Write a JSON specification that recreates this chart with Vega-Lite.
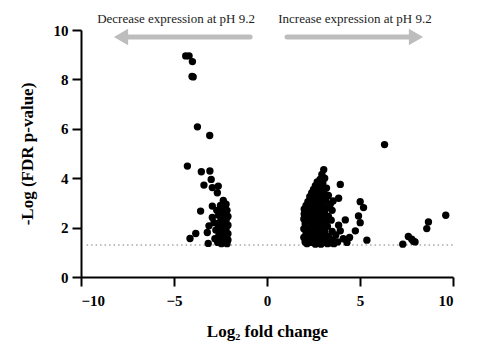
{
  "$schema": "https://vega.github.io/schema/vega-lite/v6.json",
  "width": 372,
  "height": 247,
  "autosize": {"type": "none"},
  "padding": {"left": 81, "top": 30, "right": 25, "bottom": 75},
  "background": "white",
  "config": {
    "view": {"stroke": null},
    "font": "Liberation Serif, Times New Roman, serif",
    "axis": {
      "grid": false,
      "domainColor": "black",
      "domainWidth": 2,
      "tickColor": "black",
      "tickWidth": 2,
      "tickSize": 9,
      "labelFont": "Liberation Serif, Times New Roman, serif",
      "labelFontWeight": "bold",
      "labelFontSize": 15,
      "labelColor": "black",
      "titleFont": "Liberation Serif, Times New Roman, serif",
      "titleFontWeight": "bold",
      "titleFontSize": 17,
      "titleColor": "black"
    }
  },
  "datasets": {
    "pts": [
      {"x": -4.37, "y": 8.95}, {"x": -4.19, "y": 8.95}, {"x": -4.01, "y": 8.72}, {"x": -4.03, "y": 8.12}, {"x": -3.97, "y": 8.1},
      {"x": -3.74, "y": 6.08}, {"x": -3.08, "y": 5.73}, {"x": -4.28, "y": 4.49}, {"x": -3.53, "y": 4.26}, {"x": -3.07, "y": 4.29},
      {"x": -3.0, "y": 3.95}, {"x": -3.39, "y": 3.72}, {"x": -2.94, "y": 3.62}, {"x": -2.62, "y": 3.68}, {"x": -2.67, "y": 3.41},
      {"x": -2.94, "y": 2.87}, {"x": -3.57, "y": 2.67}, {"x": -2.94, "y": 2.41}, {"x": -3.12, "y": 2.07}, {"x": -3.83, "y": 1.76},
      {"x": -4.14, "y": 1.56}, {"x": -3.21, "y": 1.8}, {"x": -3.16, "y": 1.36},
      {"x": -2.35, "y": 3.1}, {"x": -2.2, "y": 2.95}, {"x": -2.5, "y": 2.9}, {"x": -2.3, "y": 2.8}, {"x": -2.15, "y": 2.7},
      {"x": -2.45, "y": 2.65}, {"x": -2.25, "y": 2.55}, {"x": -2.6, "y": 2.5}, {"x": -2.1, "y": 2.45}, {"x": -2.4, "y": 2.4},
      {"x": -2.2, "y": 2.3}, {"x": -2.5, "y": 2.25}, {"x": -2.3, "y": 2.15}, {"x": -2.1, "y": 2.1}, {"x": -2.6, "y": 2.05},
      {"x": -2.4, "y": 2.0}, {"x": -2.2, "y": 1.95}, {"x": -2.5, "y": 1.85}, {"x": -2.3, "y": 1.8}, {"x": -2.1, "y": 1.75},
      {"x": -2.45, "y": 1.7}, {"x": -2.6, "y": 1.65}, {"x": -2.2, "y": 1.6}, {"x": -2.35, "y": 1.55}, {"x": -2.1, "y": 1.5},
      {"x": -2.5, "y": 1.45}, {"x": -2.3, "y": 1.4}, {"x": -2.15, "y": 1.35}, {"x": -2.45, "y": 1.35}, {"x": -2.65, "y": 1.4},
      {"x": -2.8, "y": 1.55}, {"x": -2.75, "y": 1.9}, {"x": -2.85, "y": 2.2}, {"x": -2.7, "y": 2.7},
      {"x": 3.05, "y": 4.35}, {"x": 2.95, "y": 4.15}, {"x": 3.1, "y": 4.0}, {"x": 2.85, "y": 3.95}, {"x": 2.7, "y": 3.85},
      {"x": 3.0, "y": 3.8}, {"x": 2.6, "y": 3.7}, {"x": 2.9, "y": 3.65}, {"x": 3.2, "y": 3.6}, {"x": 2.5, "y": 3.55},
      {"x": 2.75, "y": 3.5}, {"x": 3.05, "y": 3.45}, {"x": 2.4, "y": 3.4}, {"x": 2.65, "y": 3.35}, {"x": 2.95, "y": 3.3},
      {"x": 3.3, "y": 3.3}, {"x": 2.3, "y": 3.25}, {"x": 2.55, "y": 3.2}, {"x": 2.85, "y": 3.15}, {"x": 3.15, "y": 3.1},
      {"x": 2.2, "y": 3.05}, {"x": 2.45, "y": 3.0}, {"x": 2.7, "y": 3.0}, {"x": 3.0, "y": 2.95}, {"x": 3.4, "y": 2.95},
      {"x": 2.1, "y": 2.9}, {"x": 2.35, "y": 2.85}, {"x": 2.6, "y": 2.85}, {"x": 2.9, "y": 2.8}, {"x": 3.2, "y": 2.8},
      {"x": 2.0, "y": 2.75}, {"x": 2.25, "y": 2.7}, {"x": 2.5, "y": 2.7}, {"x": 2.8, "y": 2.65}, {"x": 3.1, "y": 2.65},
      {"x": 3.5, "y": 2.7}, {"x": 2.0, "y": 2.55}, {"x": 2.2, "y": 2.5}, {"x": 2.45, "y": 2.5}, {"x": 2.7, "y": 2.45},
      {"x": 3.0, "y": 2.5}, {"x": 3.3, "y": 2.45}, {"x": 1.98, "y": 2.35}, {"x": 2.3, "y": 2.3}, {"x": 2.55, "y": 2.3},
      {"x": 2.85, "y": 2.3}, {"x": 3.15, "y": 2.25}, {"x": 3.45, "y": 2.3}, {"x": 2.05, "y": 2.15}, {"x": 2.4, "y": 2.15},
      {"x": 2.65, "y": 2.1}, {"x": 2.95, "y": 2.1}, {"x": 3.25, "y": 2.05}, {"x": 1.98, "y": 1.95}, {"x": 2.2, "y": 1.95},
      {"x": 2.5, "y": 1.9}, {"x": 2.8, "y": 1.9}, {"x": 3.1, "y": 1.85}, {"x": 3.5, "y": 1.85}, {"x": 2.1, "y": 1.75},
      {"x": 2.35, "y": 1.75}, {"x": 2.65, "y": 1.7}, {"x": 2.95, "y": 1.7}, {"x": 3.3, "y": 1.65}, {"x": 3.7, "y": 1.7},
      {"x": 1.98, "y": 1.6}, {"x": 2.25, "y": 1.55}, {"x": 2.55, "y": 1.55}, {"x": 2.85, "y": 1.5}, {"x": 3.2, "y": 1.5},
      {"x": 3.55, "y": 1.5}, {"x": 2.05, "y": 1.42}, {"x": 2.4, "y": 1.4}, {"x": 2.7, "y": 1.38}, {"x": 3.0, "y": 1.4},
      {"x": 3.4, "y": 1.38}, {"x": 3.8, "y": 1.42}, {"x": 2.15, "y": 1.35}, {"x": 2.6, "y": 1.33}, {"x": 3.6, "y": 1.35},
      {"x": 2.9, "y": 1.33}, {"x": 3.25, "y": 1.35},
      {"x": 6.32, "y": 5.36}, {"x": 3.94, "y": 3.75}, {"x": 3.85, "y": 3.19}, {"x": 3.55, "y": 3.08}, {"x": 5.01, "y": 3.05},
      {"x": 5.19, "y": 2.81}, {"x": 4.92, "y": 2.47}, {"x": 5.01, "y": 2.2}, {"x": 4.21, "y": 2.31}, {"x": 3.85, "y": 2.1},
      {"x": 4.75, "y": 1.87}, {"x": 3.94, "y": 1.87}, {"x": 4.44, "y": 1.6}, {"x": 5.37, "y": 1.49}, {"x": 4.1, "y": 1.55},
      {"x": 4.3, "y": 1.4},
      {"x": 9.61, "y": 2.5}, {"x": 8.68, "y": 2.23}, {"x": 8.59, "y": 1.96}, {"x": 7.6, "y": 1.64}, {"x": 7.78, "y": 1.53},
      {"x": 7.96, "y": 1.42}, {"x": 7.3, "y": 1.33}, {"x": 7.87, "y": 1.45}
    ],
    "thresh": [{"x": -9.7, "x2": 10, "y": 1.3}],
    "shafts": [{"x": -7.85, "x2": -0.91, "y": 9.72}, {"x": 1.08, "x2": 8.01, "y": 9.72}],
    "heads": [{"x": -7.85, "y": 9.72, "dir": "left"}, {"x": 8.01, "y": 9.72, "dir": "right"}],
    "labels": [
      {"x": -4.89, "y": 10.3, "text": "Decrease expression at pH 9.2"},
      {"x": 4.73, "y": 10.3, "text": "Increase expression at pH 9.2"}
    ]
  },
  "layer": [
    {
      "data": {"name": "thresh"},
      "mark": {"type": "rule", "color": "#a8a8a8", "strokeWidth": 1.5, "strokeDash": [1.5, 3]},
      "encoding": {
        "x": {"field": "x", "type": "quantitative", "scale": {"domain": [-10, 10], "nice": false, "zero": false},
              "axis": {"values": [-10, -5, 0, 5, 10], "title": "Log₂ fold change", "labelPadding": 7, "titlePadding": 15}},
        "x2": {"field": "x2"},
        "y": {"field": "y", "type": "quantitative", "scale": {"domain": [0, 10], "nice": false},
              "axis": {"values": [0, 2, 4, 6, 8, 10], "title": "-Log (FDR p-value)", "labelPadding": 4, "titlePadding": 17}}
      }
    },
    {
      "data": {"name": "pts"},
      "mark": {"type": "point", "filled": true, "shape": "circle", "size": 54, "color": "black", "opacity": 1},
      "encoding": {
        "x": {"field": "x", "type": "quantitative"},
        "y": {"field": "y", "type": "quantitative"}
      }
    },
    {
      "data": {"name": "shafts"},
      "mark": {"type": "rule", "color": "#bdbdbd", "strokeWidth": 5, "strokeCap": "round"},
      "encoding": {
        "x": {"field": "x", "type": "quantitative"},
        "x2": {"field": "x2"},
        "y": {"field": "y", "type": "quantitative"}
      }
    },
    {
      "data": {"name": "heads"},
      "mark": {"type": "point", "filled": true, "size": 270, "color": "#bdbdbd", "opacity": 1},
      "encoding": {
        "x": {"field": "x", "type": "quantitative"},
        "y": {"field": "y", "type": "quantitative"},
        "shape": {"field": "dir", "type": "nominal", "scale": {"domain": ["left", "right"], "range": ["triangle-left", "triangle-right"]}, "legend": null}
      }
    },
    {
      "data": {"name": "labels"},
      "mark": {"type": "text", "font": "Liberation Serif, Times New Roman, serif", "fontSize": 13, "color": "#222", "align": "center", "baseline": "alphabetic"},
      "encoding": {
        "x": {"field": "x", "type": "quantitative"},
        "y": {"field": "y", "type": "quantitative"},
        "text": {"field": "text"}
      }
    }
  ]
}
